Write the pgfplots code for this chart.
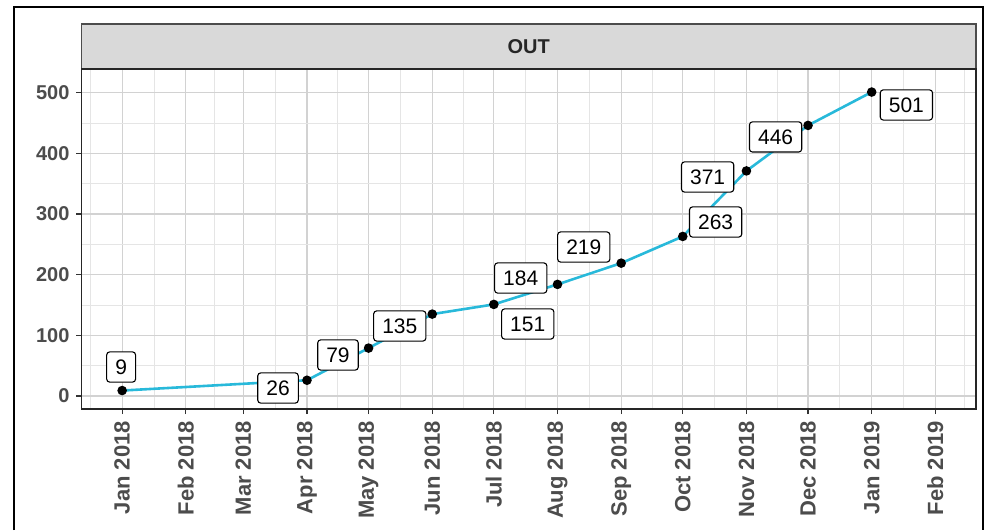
\documentclass[border=0pt]{standalone}
\usepackage{fontspec}
\setmainfont{Liberation Sans}
\usepackage{pgfplots}
\pgfplotsset{compat=1.18}
\definecolor{linec}{RGB}{40,185,218}
\definecolor{stripgray}{RGB}{217,217,217}
\tikzset{lbl/.style={draw=black, fill=white, rounded corners=1.5pt, line width=0.55pt, inner xsep=4.3pt, inner ysep=3.8pt, font=\fontsize{10.5}{12}\selectfont, text height=7.5pt, text depth=0pt}}
\begin{document}
\begin{tikzpicture}[x=0.5pt,y=0.5pt]
\path[use as bounding box] (0,0) rectangle (984,530);
\draw[line width=1pt, black] (14,0) -- (14,523) -- (983,523) -- (983,0);
\draw[fill=stripgray, draw=black!70, line width=0.6pt] (81.5,461) rectangle (976,506);
\node[font=\bfseries\fontsize{10}{12}\selectfont, text=black!85] at (528.75,483.5) {OUT};
\begin{axis}[
  at={(40.75pt,60.5pt)}, anchor=south west,
  scale only axis, width=447.25pt, height=170pt,
  xmin=-19.8, xmax=415.8, ymin=-21.4, ymax=539,
  xtick={0,31,59,90,120,151,181,212,243,273,304,334,365,396},
  xticklabels={Jan 2018,Feb 2018,Mar 2018,Apr 2018,May 2018,Jun 2018,Jul 2018,Aug 2018,Sep 2018,Oct 2018,Nov 2018,Dec 2018,Jan 2019,Feb 2019},
  minor xtick={-15.5,15.5,45,74.5,105,135.5,166,196.5,227.5,258,288.5,319,349.5,380.5,410},
  ytick={0,100,200,300,400,500},
  minor ytick={50,150,250,350,450},
  grid=both,
  major grid style={color=gray!35, line width=0.55pt},
  minor grid style={color=gray!20, line width=0.4pt},
  minor tick length=0pt, major tick length=2.5pt,
  tick align=outside, xtick pos=bottom, ytick pos=left,
  tick style={black!80, line width=0.6pt},
  axis line style={black!85, line width=0.75pt},
  /pgf/number format/assume math mode=true,
  xticklabel style={rotate=90, anchor=east, font=\bfseries\fontsize{11}{12}\selectfont, text=black!70},
  yticklabel style={font=\bfseries\fontsize{10}{12}\selectfont, text=black!70},
]
\addplot[linec, line width=1.3pt, mark=*, mark size=1.7pt, mark options={draw=black, fill=black}] coordinates {
(0,9) (90,26) (120,79) (151,135) (181,151) (212,184) (243,219) (273,263) (304,371) (334,446) (365,501)
};
\node[lbl] at (axis cs:-0.5,47.8) {9};
\node[lbl] at (axis cs:75.9,13.2) {26};
\node[lbl] at (axis cs:105.1,67.6) {79};
\node[lbl] at (axis cs:135.2,115.4) {135};
\node[lbl] at (axis cs:197.5,118.7) {151};
\node[lbl] at (axis cs:194.1,194.5) {184};
\node[lbl] at (axis cs:224.8,245.6) {219};
\node[lbl] at (axis cs:289.0,286.8) {263};
\node[lbl] at (axis cs:285.1,361.0) {371};
\node[lbl] at (axis cs:318.2,427.0) {446};
\node[lbl] at (axis cs:381.9,479.7) {501};
\end{axis}
\end{tikzpicture}
\end{document}
